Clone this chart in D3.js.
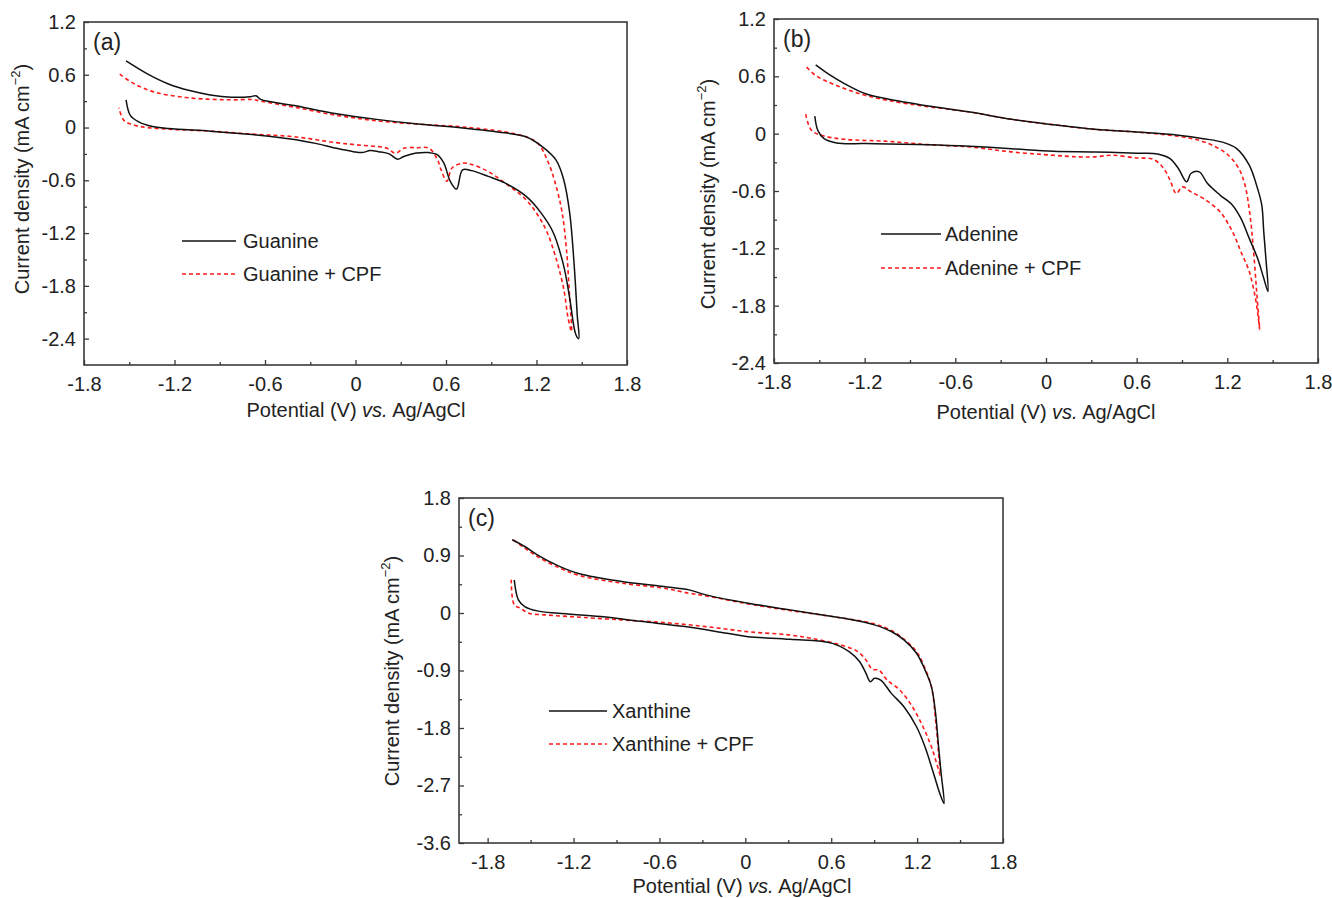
<!DOCTYPE html>
<html>
<head>
<meta charset="utf-8">
<script src="https://cdn.jsdelivr.net/npm/d3@7"></script>
<style>
  html, body { margin: 0; padding: 0; background: #fff; }
  svg { display: block; font-family: "Liberation Sans", Arial, sans-serif; }
</style>
</head>
<body>
<svg id="chart" width="1332" height="898"></svg>
<script>
// ---------- DATA (potential V, current density mA cm^-2) ----------
const guanine = [
  [-1.521,0.757],[-1.38,0.61],[-1.24,0.495],[-1.10,0.42],[-0.963,0.371],[-0.823,0.345],[-0.70,0.350],[-0.66,0.362],[-0.628,0.32],
  [-0.405,0.25],[-0.126,0.157],[0.153,0.09],[0.43,0.037],[0.71,-0.004],[0.99,-0.06],[1.13,-0.105],[1.24,-0.22],[1.33,-0.37],
  [1.38,-0.59],[1.42,-0.97],[1.45,-1.57],[1.47,-2.13],[1.48,-2.40],
  [1.46,-2.35],[1.42,-1.94],[1.38,-1.57],[1.31,-1.19],[1.23,-0.97],[1.13,-0.78],[0.99,-0.63],[0.88,-0.555],[0.77,-0.49],
  [0.71,-0.48],[0.67,-0.70],[0.628,-0.61],[0.586,-0.405],[0.544,-0.31],[0.488,-0.285],[0.405,-0.29],[0.32,-0.33],[0.279,-0.36],
  [0.223,-0.30],[0.153,-0.275],[0.098,-0.262],[0.042,-0.285],[-0.014,-0.274],[-0.126,-0.236],[-0.265,-0.18],[-0.405,-0.135],
  [-0.684,-0.079],[-0.963,-0.041],[-1.24,-0.011],[-1.354,0.015],[-1.437,0.064],[-1.493,0.139],[-1.521,0.315]
];
const guanineCPF = [
  [-1.563,0.607],[-1.465,0.495],[-1.326,0.401],[-1.10,0.337],[-0.823,0.315],[-0.684,0.319],[-0.628,0.30],[-0.405,0.232],
  [-0.126,0.139],[0.153,0.075],[0.43,0.037],[0.71,0.007],[0.99,-0.049],[1.13,-0.105],[1.21,-0.18],[1.28,-0.405],[1.33,-0.667],
  [1.37,-0.967],[1.40,-1.417],[1.42,-1.94],[1.432,-2.32],
  [1.41,-2.17],[1.38,-1.83],[1.33,-1.49],[1.27,-1.19],[1.21,-1.0],[1.13,-0.82],[0.99,-0.63],[0.88,-0.50],[0.77,-0.42],
  [0.71,-0.405],[0.64,-0.46],[0.606,-0.61],[0.567,-0.48],[0.544,-0.367],[0.488,-0.236],[0.405,-0.229],[0.32,-0.236],
  [0.265,-0.292],[0.209,-0.236],[0.153,-0.217],[0.042,-0.202],[-0.126,-0.172],[-0.405,-0.105],[-0.684,-0.075],[-0.963,-0.041],
  [-1.24,-0.019],[-1.38,0.0],[-1.465,0.026],[-1.535,0.082],[-1.569,0.225]
];
const adenine = [
  [-1.524,0.72],[-1.441,0.626],[-1.331,0.522],[-1.193,0.417],[-1.055,0.365],[-0.779,0.289],[-0.503,0.226],[-0.228,0.15],
  [0.048,0.094],[0.324,0.045],[0.6,0.017],[0.876,-0.017],[1.041,-0.052],[1.179,-0.094],[1.262,-0.157],[1.345,-0.33],
  [1.40,-0.574],[1.428,-0.748],[1.441,-1.026],[1.455,-1.304],[1.469,-1.652],
  [1.441,-1.513],[1.40,-1.304],[1.345,-1.096],[1.29,-0.887],[1.234,-0.748],[1.152,-0.643],[1.069,-0.522],[1.014,-0.40],
  [0.959,-0.417],[0.931,-0.504],[0.876,-0.365],[0.821,-0.261],[0.738,-0.212],[0.6,-0.205],[0.324,-0.191],[0.048,-0.184],
  [-0.228,-0.157],[-0.503,-0.132],[-0.779,-0.115],[-1.193,-0.104],[-1.386,-0.097],[-1.469,-0.052],[-1.51,0.035],[-1.53,0.184]
];
const adenineCPF = [
  [-1.584,0.696],[-1.524,0.609],[-1.386,0.504],[-1.193,0.40],[-0.917,0.313],[-0.503,0.226],[-0.228,0.15],[0.048,0.094],
  [0.324,0.045],[0.6,0.017],[0.876,-0.028],[1.014,-0.07],[1.124,-0.139],[1.207,-0.226],[1.276,-0.365],[1.317,-0.539],
  [1.35,-0.852],[1.372,-1.2],[1.394,-1.652],[1.414,-2.052],
  [1.405,-1.93],[1.386,-1.722],[1.345,-1.443],[1.29,-1.235],[1.234,-1.026],[1.152,-0.817],[1.041,-0.678],[0.959,-0.609],
  [0.903,-0.557],[0.862,-0.626],[0.821,-0.487],[0.779,-0.365],[0.71,-0.268],[0.6,-0.254],[0.434,-0.226],[0.324,-0.243],
  [0.214,-0.243],[0.048,-0.226],[-0.228,-0.191],[-0.503,-0.139],[-0.779,-0.115],[-1.055,-0.08],[-1.331,-0.059],
  [-1.469,-0.024],[-1.552,0.035],[-1.593,0.226]
];
const xanthine = [
  [-1.629,1.146],[-1.541,1.041],[-1.453,0.911],[-1.306,0.738],[-1.158,0.613],[-0.864,0.493],[-0.57,0.415],[-0.393,0.362],
  [-0.275,0.284],[0.019,0.153],[0.313,0.049],[0.608,-0.056],[0.755,-0.108],[0.902,-0.186],[1.02,-0.29],[1.108,-0.42],
  [1.196,-0.63],[1.255,-0.891],[1.3,-1.153],[1.329,-1.571],[1.35,-2.094],[1.368,-2.512],[1.388,-2.982],
  [1.359,-2.826],[1.315,-2.512],[1.255,-2.094],[1.196,-1.78],[1.108,-1.467],[1.02,-1.258],[0.946,-1.049],[0.902,-1.023],
  [0.873,-1.075],[0.843,-0.944],[0.799,-0.762],[0.725,-0.605],[0.608,-0.475],[0.313,-0.412],[0.019,-0.37],[-0.128,-0.318],
  [-0.422,-0.213],[-0.717,-0.134],[-1.011,-0.056],[-1.306,-0.004],[-1.453,0.033],[-1.541,0.101],[-1.585,0.206],[-1.614,0.519]
];
const xanthineCPF = [
  [-1.62,1.146],[-1.541,1.015],[-1.453,0.884],[-1.306,0.712],[-1.158,0.586],[-0.864,0.467],[-0.57,0.388],[-0.393,0.31],
  [-0.275,0.268],[0.019,0.143],[0.313,0.038],[0.608,-0.056],[0.902,-0.17],[1.02,-0.275],[1.108,-0.41],[1.196,-0.604],
  [1.255,-0.865],[1.3,-1.153],[1.329,-1.676],[1.35,-2.2],[1.362,-2.54],
  [1.344,-2.408],[1.3,-2.094],[1.241,-1.78],[1.167,-1.467],[1.079,-1.206],[0.99,-1.049],[0.932,-0.892],[0.888,-0.882],
  [0.843,-0.735],[0.785,-0.605],[0.667,-0.5],[0.461,-0.397],[0.313,-0.345],[0.019,-0.293],[-0.275,-0.213],[-0.57,-0.15],
  [-0.864,-0.108],[-1.158,-0.066],[-1.394,-0.03],[-1.512,-0.004],[-1.571,0.075],[-1.614,0.127],[-1.635,0.519]
];

const xTicks = [-1.8, -1.2, -0.6, 0, 0.6, 1.2, 1.8];
const xMinorTicks = [-1.5, -0.9, -0.3, 0.3, 0.9, 1.5];
const yTicksAB = [1.2, 0.6, 0, -0.6, -1.2, -1.8, -2.4];
const yMinorTicksAB = [0.9, 0.3, -0.3, -0.9, -1.5, -2.1];
const yTicksC = [1.8, 0.9, 0, -0.9, -1.8, -2.7, -3.6];
const yMinorTicksC = [1.35, 0.45, -0.45, -1.35, -2.25, -3.15];

const panelLabels = ["(a)", "(b)", "(c)"];
const legendNames = [["Guanine", "Guanine + CPF"], ["Adenine", "Adenine + CPF"], ["Xanthine", "Xanthine + CPF"]];

// ---------- LAYOUT ----------
const panels = [
  { box:{l:84,t:22,r:627,b:365}, xDom:[-1.8,1.8], yDom:[-2.7,1.2], yT:yTicksAB, yM:yMinorTicksAB,
    series:[guanine, guanineCPF], yTitleX:29, yTitleY:179, xTitleX:356, xTitleY:417, leg:{x1:182,x2:236,tx:243,y1:241,y2:274} },
  { box:{l:774,t:19,r:1318,b:363}, xDom:[-1.8,1.8], yDom:[-2.4,1.2], yT:yTicksAB, yM:yMinorTicksAB,
    series:[adenine, adenineCPF], yTitleX:715, yTitleY:194, xTitleX:1046, xTitleY:419, leg:{x1:881,x2:941,tx:945,y1:234,y2:268} },
  { box:{l:459,t:498,r:1003,b:843}, xDom:[-2.0,1.8], yDom:[-3.6,1.8], yT:yTicksC, yM:yMinorTicksC,
    series:[xanthine, xanthineCPF], yTitleX:399, yTitleY:671, xTitleX:742, xTitleY:893, leg:{x1:549,x2:607,tx:612,y1:711,y2:744} }
];

const svg = d3.select("#chart");
const axisColor = "#3a3a3a";
const textColor = "#222";
const FONT = "Liberation Sans, Arial, sans-serif";

panels.forEach((p, i) => {
  const b = p.box;
  const x = d3.scaleLinear().domain(p.xDom).range([b.l, b.r]);
  const y = d3.scaleLinear().domain(p.yDom).range([b.b, b.t]);
  const g = svg.append("g");

  // series
  const line = d3.line().x(d => x(d[0])).y(d => y(d[1])).curve(d3.curveCatmullRom.alpha(0.5));
  g.append("path").datum(p.series[1]).attr("d", line)
    .attr("fill", "none").attr("stroke", "#ff1a1a").attr("stroke-width", 1.6)
    .attr("stroke-dasharray", "4,3").attr("stroke-linejoin", "round");
  g.append("path").datum(p.series[0]).attr("d", line)
    .attr("fill", "none").attr("stroke", "#111").attr("stroke-width", 1.5).attr("stroke-linejoin", "round");

  // bottom axis (inward ticks)
  const xAxis = d3.axisBottom(x).tickValues(xTicks).tickSize(-5).tickPadding(12)
    .tickFormat(v => String(v));
  const gx = g.append("g").attr("transform", `translate(0,${b.b})`).call(xAxis);
  gx.select(".domain").remove();
  gx.selectAll(".tick line").attr("stroke", axisColor).attr("stroke-width", 1.3);
  gx.selectAll(".tick text").attr("fill", textColor).attr("font-size", 20).attr("font-family", FONT);
  const gxm = g.append("g").attr("transform", `translate(0,${b.b})`)
    .call(d3.axisBottom(x).tickValues(xMinorTicks).tickSize(-3).tickFormat(""));
  gxm.select(".domain").remove();
  gxm.selectAll(".tick line").attr("stroke", axisColor).attr("stroke-width", 1.3);

  // left axis (inward ticks)
  const yAxis = d3.axisLeft(y).tickValues(p.yT).tickSize(-5).tickPadding(8)
    .tickFormat(v => String(v));
  const gy = g.append("g").attr("transform", `translate(${b.l},0)`).call(yAxis);
  gy.select(".domain").remove();
  gy.selectAll(".tick line").attr("stroke", axisColor).attr("stroke-width", 1.3);
  gy.selectAll(".tick text").attr("fill", textColor).attr("font-size", 20).attr("font-family", FONT);
  const gym = g.append("g").attr("transform", `translate(${b.l},0)`)
    .call(d3.axisLeft(y).tickValues(p.yM).tickSize(-3).tickFormat(""));
  gym.select(".domain").remove();
  gym.selectAll(".tick line").attr("stroke", axisColor).attr("stroke-width", 1.3);

  // frame
  g.append("rect").attr("x", b.l).attr("y", b.t).attr("width", b.r - b.l).attr("height", b.b - b.t)
    .attr("fill", "none").attr("stroke", axisColor).attr("stroke-width", 1.6);

  // panel label
  g.append("text").attr("x", b.l + 9).attr("y", b.t + 28).attr("font-size", 23)
    .attr("fill", textColor).text(panelLabels[i]);

  // x title
  const xt = g.append("text").attr("x", p.xTitleX).attr("y", p.xTitleY)
    .attr("text-anchor", "middle").attr("font-size", 20).attr("fill", textColor);
  xt.append("tspan").text("Potential (V) ");
  xt.append("tspan").attr("font-style", "italic").text("vs.");
  xt.append("tspan").text(" Ag/AgCl");

  // y title
  const yt = g.append("text")
    .attr("transform", `translate(${p.yTitleX},${p.yTitleY}) rotate(-90)`)
    .attr("text-anchor", "middle").attr("font-size", 20).attr("fill", textColor);
  yt.append("tspan").text("Current density (mA cm");
  yt.append("tspan").attr("font-size", 13).attr("dy", -9).text("\u22122");
  yt.append("tspan").attr("dy", 9).text(")");

  // legend
  const L = p.leg;
  g.append("line").attr("x1", L.x1).attr("x2", L.x2).attr("y1", L.y1).attr("y2", L.y1)
    .attr("stroke", "#111").attr("stroke-width", 1.5);
  g.append("line").attr("x1", L.x1).attr("x2", L.x2).attr("y1", L.y2).attr("y2", L.y2)
    .attr("stroke", "#ff1a1a").attr("stroke-width", 1.6).attr("stroke-dasharray", "4,3");
  g.append("text").attr("x", L.tx).attr("y", L.y1).attr("dy", "0.35em").attr("font-size", 20)
    .attr("fill", textColor).text(legendNames[i][0]);
  g.append("text").attr("x", L.tx).attr("y", L.y2).attr("dy", "0.35em").attr("font-size", 20)
    .attr("fill", textColor).text(legendNames[i][1]);
});
</script>
</body>
</html>
